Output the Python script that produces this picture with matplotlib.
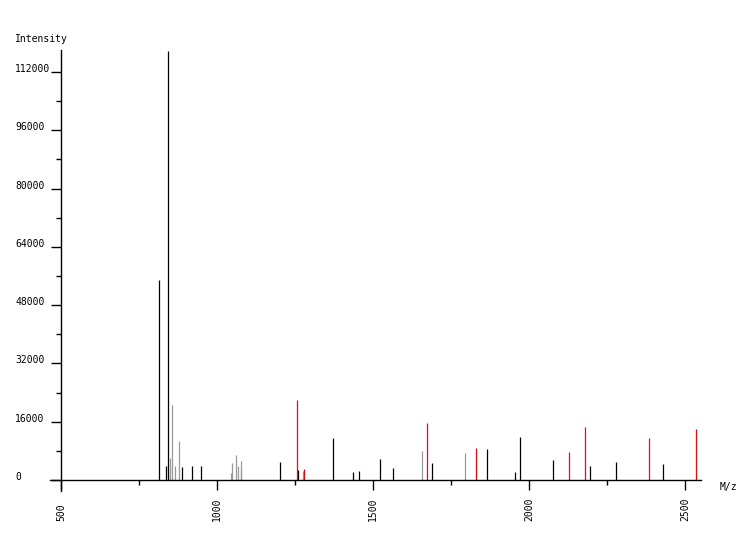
import matplotlib
matplotlib.use('Agg')
import matplotlib.pyplot as plt
from matplotlib.ticker import MultipleLocator

# peaks, grouped by colour
black_mz = [815, 837.5, 844, 889, 921, 950, 1200, 1260, 1371, 1434, 1456, 1523,
            1565, 1687, 1863, 1953, 1969, 2075, 2196, 2277, 2427]
black_int = [54900, 3840, 117800, 3570, 3840, 3840, 4940, 2750, 11530, 2200, 2470, 5770,
             3300, 4670, 8510, 2200, 11800, 5490, 3840, 4940, 4390]

gray_mz = [850, 857, 866, 879, 1046, 1049, 1062, 1068, 1075, 1078, 1275, 1655, 1793]
gray_int = [6040, 20600, 3840, 10700, 1900, 4670, 6860, 3840, 5200, 2750, 2500, 7960, 7410]

red_mz = [1257, 1278, 1671, 1828, 2126, 2180, 2382, 2533]
red_int = [21960, 3000, 15650, 8780, 7690, 14550, 11530, 14000]

x_ticks = [500, 1000, 1500, 2000, 2500]
y_ticks = [0, 16000, 32000, 48000, 64000, 80000, 96000, 112000]

plt.rcParams['font.family'] = 'DejaVu Sans Mono'

fig = plt.figure(figsize=(7.5, 5.4), dpi=100)
W, H = 750, 540
ax = fig.add_axes([50 / W, (H - 491) / H, 651 / W, 441 / H])

ax.vlines(gray_mz, 0, gray_int, color='#999999', linewidth=0.9)
ax.vlines(black_mz, 0, black_int, color='black', linewidth=0.9)
ax.vlines(red_mz, 0, red_int, color='#ff0000', linewidth=0.9)

ax.set_xlim(464.8, 2550)
ax.set_ylim(-3020, 118040)

for s in ['top', 'right']:
    ax.spines[s].set_visible(False)
ax.spines['left'].set_position(('data', 500))
ax.spines['bottom'].set_position(('data', 0))
ax.spines['left'].set_linewidth(1)
ax.spines['bottom'].set_linewidth(1)

ax.set_xticks(x_ticks)
ax.set_xticklabels([str(v) for v in x_ticks], rotation=90, fontsize=7)
ax.xaxis.set_minor_locator(MultipleLocator(250))
ax.tick_params(axis='x', which='major', direction='out', length=7.2, width=1, pad=22.3)
ax.tick_params(axis='x', which='minor', direction='out', length=3.6, width=1)
for lab in ax.get_xticklabels():
    lab.set_va('bottom')

ax.set_yticks(y_ticks)
ax.set_yticklabels([str(v) for v in y_ticks], fontsize=7)
ax.yaxis.set_minor_locator(MultipleLocator(8000))
ax.tick_params(axis='y', which='major', direction='out', length=7.2, width=1, pad=25.9)
ax.tick_params(axis='y', which='minor', direction='out', length=3.6, width=1)
for lab in ax.get_yticklabels():
    lab.set_ha('left')
    lab.set_va('baseline')

fig.text(15 / W, 1 - 39 / H, 'Intensity', fontsize=7, ha='left', va='center')
fig.text(720 / W, 1 - 487 / H, 'M/z', fontsize=7, ha='left', va='center')

fig.savefig('out.png', dpi=100)
